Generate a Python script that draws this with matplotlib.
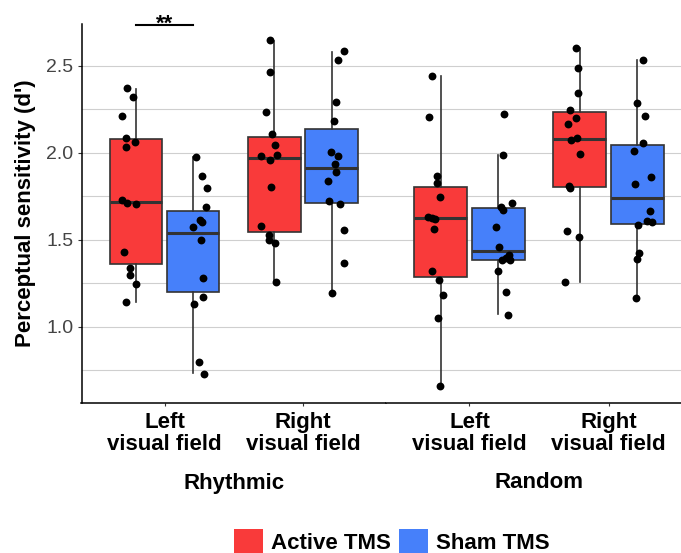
import matplotlib
matplotlib.use("Agg")
import matplotlib.pyplot as plt
from matplotlib.patches import Patch
import numpy as np

plt.rcParams['font.family'] = ['Liberation Sans', 'DejaVu Sans']

# facets, categories and groups
facets = ['Rhythmic', 'Random']
fields = ['Left\nvisual field', 'Right\nvisual field']
groups = ['Active TMS', 'Sham TMS']
colors = ['#F93A3A', '#4680FA']

# d' values (one list per box)
rhy_left_active = [2.370, 2.318, 2.209, 2.086, 2.060, 2.033, 1.728, 1.709, 1.703, 1.428, 1.339, 1.299, 1.244, 1.142]
rhy_left_sham = [1.975, 1.866, 1.797, 1.686, 1.611, 1.603, 1.575, 1.498, 1.278, 1.172, 1.129, 0.797, 0.730]
rhy_right_active = [2.646, 2.466, 2.236, 2.106, 2.044, 1.983, 1.989, 1.956, 1.801, 1.580, 1.527, 1.500, 1.481, 1.259]
rhy_right_sham = [2.584, 2.533, 2.293, 2.182, 2.006, 1.979, 1.935, 1.889, 1.836, 1.724, 1.705, 1.554, 1.366, 1.194]
ran_left_active = [2.443, 2.205, 1.866, 1.824, 1.744, 1.629, 1.627, 1.621, 1.563, 1.318, 1.268, 1.180, 1.048, 0.661]
ran_left_sham = [2.224, 1.989, 1.713, 1.688, 1.669, 1.575, 1.458, 1.410, 1.385, 1.383, 1.393, 1.318, 1.198, 1.069]
ran_right_active = [2.603, 2.487, 2.345, 2.245, 2.198, 2.167, 2.086, 2.073, 1.994, 1.809, 1.799, 1.552, 1.516, 1.259]
ran_right_sham = [2.534, 2.286, 2.209, 2.058, 2.008, 1.859, 1.818, 1.667, 1.606, 1.600, 1.583, 1.425, 1.387, 1.167]

# horizontal jitter of the dots (px)
jit_rhy_left_active = [-9.3, -2.7, -14.3, -10.3, -0.7, -9.7, -13.7, -9, -0.3, -11.7, -6, -6.3, -0.3, -10]
jit_rhy_left_sham = [2.8, 8.8, 13.8, 12.8, 7.2, 8.5, -0.2, 7.5, 9.5, 10.2, 1.2, 6.2, 10.5]
jit_rhy_right_active = [-4.8, -4.2, -8.2, -2.5, 0.5, -13.5, 2.5, -4.8, -3.8, -13.8, -5.8, -5.5, 0.8, 1.5]
jit_rhy_right_sham = [12.8, 6.2, 4.2, 2.8, -0.8, 6.8, 3.5, 4.2, -3.2, -2.8, 8.2, 12.2, 12.5, 0.5]
jit_ran_left_active = [-8.5, -11.5, -3.2, -3.5, -0.8, -12.8, -8.8, -5.5, -6.5, -8.8, -1.5, 2.2, -2.2, -0.2]
jit_ran_left_sham = [6, 4.3, 13.3, 2.7, 4.7, -2.3, 0.3, 10.7, 3.3, 12, 7.7, -0.3, 8, 9.3]
jit_ran_right_active = [-3.7, -2, -2, -9.7, -3.7, -11.3, -3, -8.3, 0.3, -10.7, -9.7, -12.7, -0.3, -14.7]
jit_ran_right_sham = [6, -0.3, 7.7, 6, -3.3, 14, -2, 13, 9.3, 15, 1, 2, -0.3, -1.7]

# box statistics: q1, median, q3, lower whisker, upper whisker
q1 = [1.359, 1.198, 1.543, 1.711, 1.284, 1.385, 1.801, 1.588]
med = [1.718, 1.539, 1.970, 1.914, 1.623, 1.435, 2.080, 1.741]
q3 = [2.077, 1.667, 2.090, 2.138, 1.803, 1.684, 2.232, 2.046]
wlo = [1.144, 0.732, 1.259, 1.194, 0.661, 1.071, 1.259, 1.167]
whi = [2.364, 1.975, 2.644, 2.580, 2.441, 1.987, 2.603, 2.531]

values = [rhy_left_active, rhy_left_sham, rhy_right_active, rhy_right_sham,
          ran_left_active, ran_left_sham, ran_right_active, ran_right_sham]
jitters = [jit_rhy_left_active, jit_rhy_left_sham, jit_rhy_right_active, jit_rhy_right_sham,
           jit_ran_left_active, jit_ran_left_sham, jit_ran_right_active, jit_ran_right_sham]

W, H = 681, 553
fig = plt.figure(figsize=(W / 100, H / 100), dpi=100)
bottom = 1 - 402.7 / H
height = (402.7 - 24.3) / H
ax1 = fig.add_axes([81.5 / W, bottom, 304.5 / W, height])
ax2 = fig.add_axes([386 / W, bottom, 306 / W, height])
axes = [ax1, ax2]

px_per_unit = 138.4
dodge = 0.207
bw = 0.38
edge = '#333333'

for f, ax in enumerate(axes):
    ax.set_xlim(-0.6, 1.6)
    ax.set_ylim(0.563, 2.738)
    ax.set_yticks([1.0, 1.5, 2.0, 2.5])
    ax.set_yticks([0.75, 1.25, 1.75, 2.25], minor=True)
    ax.yaxis.grid(True, which='both', color='#CFCFCF', linewidth=0.8)
    ax.set_axisbelow(True)
    for s in ['top', 'right']:
        ax.spines[s].set_visible(False)
    ax.spines['bottom'].set_linewidth(1.1)
    ax.spines['bottom'].set_color('black')
    ax.spines['left'].set_linewidth(1.1)
    ax.spines['left'].set_color('black')
    ax.set_xticks([0, 1])
    ax.set_xticklabels(fields, fontsize=16, fontweight='bold', linespacing=1.05)
    ax.tick_params(axis='x', length=2.5, width=0.8, color='#333333', pad=4)
    ax.tick_params(axis='y', which='major', length=3, width=0.8, color='#333333',
                   labelsize=14, labelcolor='#444444', pad=3)
    ax.tick_params(axis='y', which='minor', length=0)
    ax.text(0.5, -(483 - 402.7) / (402.7 - 24.3), facets[f], transform=ax.transAxes,
            ha='center', va='center', fontsize=16, fontweight='bold')

    for c in range(2):
        for g in range(2):
            i = f * 4 + c * 2 + g
            pos = c + (g - 0.5) * 2 * dodge
            stats = [dict(q1=q1[i], med=med[i], q3=q3[i], whislo=wlo[i], whishi=whi[i], fliers=[])]
            ax.bxp(stats, positions=[pos], widths=bw, patch_artist=True, showcaps=False,
                   boxprops=dict(facecolor=colors[g], edgecolor=edge, linewidth=1.2),
                   medianprops=dict(color=edge, linewidth=2.2, solid_capstyle='butt'),
                   whiskerprops=dict(color=edge, linewidth=1.2), manage_ticks=False, zorder=2)
            xs = pos + np.array(jitters[i]) / px_per_unit
            ax.scatter(xs, values[i], s=32, color='black', zorder=3, linewidths=0)

ax2.spines['left'].set_visible(False)
ax2.tick_params(axis='y', which='both', left=False, labelleft=False)

# significance bar
ax1.plot([-dodge, dodge], [2.735, 2.735], color='black', linewidth=1.5, clip_on=False)
ax1.text(0, 2.739, '**', ha='center', va='center', fontsize=16, fontweight='bold')

fig.text(26 / W, 1 - 213.5 / H, "Perceptual sensitivity (d')", rotation=90,
         ha='center', va='center', fontsize=16, fontweight='bold')

handles = [Patch(facecolor=colors[0], edgecolor='none'), Patch(facecolor=colors[1], edgecolor='none')]
fig.legend(handles, groups, loc='center', bbox_to_anchor=(391.5 / W, 1 - 541.5 / H), ncol=2,
           frameon=False, prop=dict(size=16, weight='bold'), handlelength=1.3, handleheight=1.3,
           handletextpad=0.36, columnspacing=0.36, borderaxespad=0, borderpad=0)

fig.savefig('out.png', dpi=100)
